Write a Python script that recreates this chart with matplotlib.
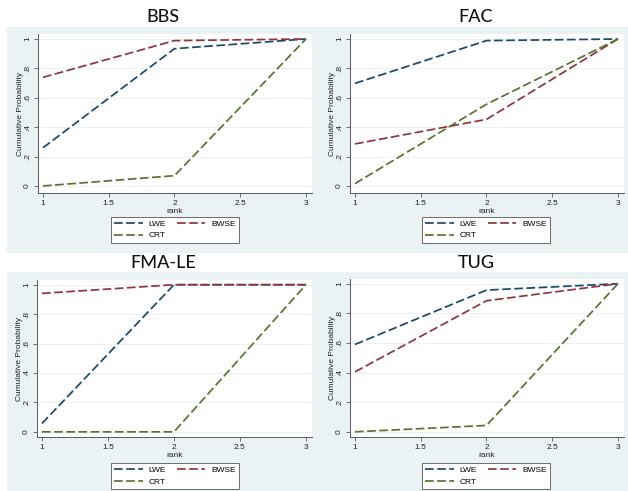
import matplotlib.pyplot as plt
from matplotlib.patches import Rectangle

W, H = 628, 491

ranks = [1, 2, 3]
titles = ["BBS", "FAC", "FMA-LE", "TUG"]
lwe = [[0.26, 0.934, 1.0], [0.698, 0.989, 1.0], [0.057, 1.0, 1.0], [0.59, 0.957, 1.0]]
bwse = [[0.739, 0.989, 1.0], [0.286, 0.453, 1.0], [0.941, 1.0, 1.0], [0.405, 0.885, 1.0]]
crt = [[0.0, 0.07, 1.0], [0.016, 0.556, 1.0], [0.0, 0.0, 1.0], [0.0, 0.043, 1.0]]
series_names = ["LWE", "BWSE", "CRT"]
xticks = [1, 1.5, 2, 2.5, 3]
xticklabels = ["1", "1.5", "2", "2.5", "3"]
yticks = [0, 0.2, 0.4, 0.6, 0.8, 1.0]
yticklabels = ["0", ".2", ".4", ".6", ".8", "1"]

BG = "#EAF2F3"
COLORS = ["#1A476F", "#90353B", "#55752F"]
AXCOL = "#5A5A5A"

# pixel layout (left, top, right, bottom) of each plot region, title y, legend centre
plot_boxes = [(38, 34, 312, 193), (350, 34, 624, 193),
              (37, 280, 312, 437), (350, 279, 624, 437)]
title_pos = [(163, 17), (476, 17), (163, 263), (476, 263)]
legend_pos = [(175, 230), (486, 230), (175, 476), (486, 476)]
gray_rows = [(7, 27, 628, 253), (7, 272, 628, 491)]


def fx(x):
    return x / W


def fy(y):
    return 1 - y / H


fig = plt.figure(figsize=(W / 100, H / 100), dpi=100, facecolor="white")

# Stata-like graph region background
for l, t, r, b in gray_rows:
    fig.patches.append(Rectangle((fx(l), fy(b)), fx(r - l), (b - t) / H,
                                 transform=fig.transFigure, facecolor=BG,
                                 edgecolor="none", zorder=-5))

for i in range(4):
    l, t, r, b = plot_boxes[i]
    ax = fig.add_axes([fx(l), fy(b), (r - l) / W, (b - t) / H])
    ax.set_zorder(1)
    ax.set_facecolor("white")

    data = [lwe[i], bwse[i], crt[i]]
    handles = []
    for name, vals, col in zip(series_names, data, COLORS):
        ln, = ax.plot(ranks, vals, color=col, lw=1.25, dashes=(5, 2),
                      label=name, zorder=3)
        handles.append(ln)

    ax.set_xlim(0.962, 3.046)
    if i < 2:
        ax.set_ylim(-0.048, 1.034)
    else:
        ax.set_ylim(-0.035, 1.032)

    ax.set_xticks(xticks)
    ax.set_xticklabels(xticklabels)
    ax.set_yticks(yticks)
    ax.set_yticklabels(yticklabels, rotation=90, va="center")
    ax.grid(axis="y", color=BG, lw=0.8, zorder=0)

    for side in ["top", "right"]:
        ax.spines[side].set_visible(False)
    for side in ["left", "bottom"]:
        ax.spines[side].set_color(AXCOL)
        ax.spines[side].set_linewidth(0.7)
    ax.tick_params(length=3, width=0.6, color=AXCOL, labelsize=6,
                   labelcolor="#222222", pad=2)
    for lab in ax.get_xticklabels() + ax.get_yticklabels():
        lab.set_family("Liberation Sans")

    ax.set_xlabel("rank", fontsize=6, family="Liberation Sans", labelpad=1,
                  color="#222222")
    ax.set_ylabel("Cumulative Probability", fontsize=6, family="Liberation Sans",
                  labelpad=0, color="#222222")

    tx, ty = title_pos[i]
    fig.text(fx(tx), fy(ty), titles[i], ha="center", va="center",
             fontsize=13, family="Lato", fontweight="medium", color="#111111")

    lx, ly = legend_pos[i]
    leg = ax.legend(handles=[handles[0], handles[2], handles[1]],
                    labels=["LWE", "CRT", "BWSE"], ncol=2,
                    loc="center", bbox_to_anchor=(fx(lx), fy(ly)),
                    bbox_transform=fig.transFigure,
                    prop={"family": "Liberation Sans", "size": 6},
                    handlelength=3.4, handletextpad=0.7, columnspacing=1.3,
                    labelspacing=0.4, borderpad=0.45, frameon=True,
                    fancybox=False, edgecolor="#555555", framealpha=1)
    leg.get_frame().set_linewidth(0.6)

fig.savefig("out.png", dpi=100, facecolor="white")
